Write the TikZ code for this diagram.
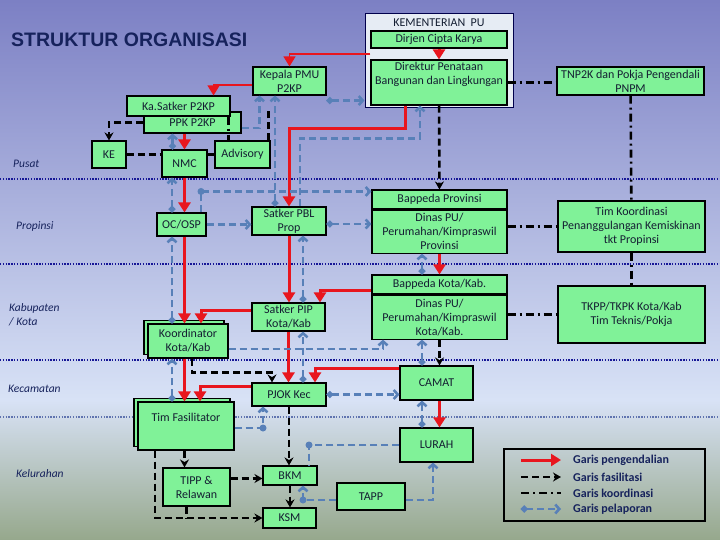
\documentclass[tikz,border=0pt]{standalone}
\usepackage{fontspec}
\setmainfont{Carlito}
\newfontfamily\titlefont{Liberation Sans}
\usetikzlibrary{arrows.meta,positioning,calc,shadows}

\definecolor{boxgreen}{RGB}{128,242,152}
\definecolor{inkc}{RGB}{20,30,50}
\definecolor{navyc}{RGB}{22,34,92}
\definecolor{redc}{RGB}{232,22,30}
\definecolor{repc}{RGB}{88,128,184}
\definecolor{sepc}{RGB}{22,22,150}
\definecolor{sepl}{RGB}{95,115,175}
\definecolor{kemfill}{RGB}{230,236,244}
\definecolor{bgtop}{RGB}{124,128,196}
\definecolor{bgmid}{RGB}{216,226,246}
\definecolor{bgbot}{RGB}{150,168,140}

\begin{document}
\begin{tikzpicture}[
    x=1pt, y=-1pt,
    unit/.style={rectangle, draw=black, line width=1.1pt, fill=boxgreen, text=inkc,
                 align=center, inner sep=1pt, font=\fontsize{12}{14}\selectfont},
    twin/.style={copy shadow={shadow xshift=-4pt, shadow yshift=3.5pt, fill=boxgreen,
                 draw=black, line width=1.1pt}},
    ctrl/.style={draw=redc, line width=3pt, -{Triangle[length=10pt,width=12pt]}},
    ctrlthin/.style={draw=redc, line width=1.2pt, -{Triangle[length=10pt,width=12pt]}},
    facil/.style={draw=black, line width=2.6pt, dash pattern=on 7pt off 4pt,
                  -{Stealth[length=8pt,width=9pt]}},
    coord/.style={draw=black, line width=2.6pt, dash pattern=on 8pt off 4pt on 2pt off 4pt},
    report/.style={draw=repc, line width=2.6pt, dash pattern=on 7pt off 4pt,
                   {Circle[length=6.5pt]}-{Straight Barb[length=4pt,width=9pt]}},
    lvl/.style={font=\fontsize{11.5}{14.5}\selectfont\itshape, text=navyc, anchor=west,
                inner sep=0pt, align=left},
    lgd/.style={font=\fontsize{12}{14}\selectfont\bfseries, text=navyc, anchor=west, inner sep=0pt}
]

%% -- background and levels ------------------------------------------
\useasboundingbox (0,0) rectangle (720,540);
\shade[top color=bgtop, bottom color=bgmid] (0,0) rectangle (720,400);
\shade[top color=bgmid, bottom color=bgbot] (0,400) rectangle (720,540);
\foreach \yy in {179,264,360}
  \draw[draw=sepc, line width=2.6pt, dash pattern=on 1.4pt off 1.4pt] (0,\yy) -- (720,\yy);
\draw[draw=sepl, line width=2.2pt, dash pattern=on 1.4pt off 1.4pt] (0,417) -- (720,417);

\node[font=\titlefont\bfseries\fontsize{19.5}{22}\selectfont, text=navyc, anchor=west, inner sep=0pt]
    (title) at (11,40) {STRUKTUR ORGANISASI};

\node[lvl] (lpusat) at (13,164) {Pusat};
\node[lvl] (lprop)  at (16,226) {Propinsi};
\node[lvl] (lkab)   at (9,315)  {Kabupaten\\/ Kota};
\node[lvl] (lkec)   at (8,389)  {Kecamatan};
\node[lvl] (lkel)   at (16,474) {Kelurahan};

%% -- pusat ----------------------------------------------------------
\node[draw=black!70!blue, line width=1pt, fill=kemfill, minimum width=148pt,
      minimum height=94pt] (kem) at (439,61) {};
\node[font=\fontsize{12}{14}\selectfont, text=inkc, inner sep=0pt] (kemlbl) at (439,23)
    {KEMENTERIAN\ \ PU};
\node[unit, minimum width=136pt, minimum height=17pt] (dirjen) at (439,39.5) {Dirjen Cipta Karya};
\node[unit, minimum width=136pt, minimum height=45pt] (direktur) at (439,82.5)
    {Direktur Penataan\\Bangunan dan Lingkungan\\\strut};
\node[unit, minimum width=147pt, minimum height=28pt] (tnp2k) at (630.5,81)
    {TNP2K dan Pokja Pengendali\\PNPM};
\node[unit, minimum width=73pt, minimum height=28pt] (kepala) at (289.5,81) {Kepala PMU\\P2KP};
\node[unit, minimum width=97pt, minimum height=21pt] (ppk) at (192.5,122.5) {PPK P2KP};
\node[unit, minimum width=103pt, minimum height=20pt] (kasatker) at (178.5,106) {Ka.Satker P2KP};
\node[unit, minimum width=34pt, minimum height=27pt] (ke) at (109,154.5) {KE};
\node[unit, minimum width=45pt, minimum height=27pt] (nmc) at (184.5,163.5) {NMC};
\node[unit, minimum width=55pt, minimum height=27pt] (advisory) at (242.5,154.5) {Advisory};

%% -- propinsi -------------------------------------------------------
\node[unit, minimum width=49pt, minimum height=23pt] (ocosp) at (181.5,224.5) {OC/OSP};
\node[unit, minimum width=74pt, minimum height=28pt] (pbl) at (289,221) {Satker PBL\\Prop};
\node[unit, minimum width=135pt, minimum height=19pt] (bprovt) at (439.5,199.5) {Bappeda Provinsi};
\node[unit, minimum width=135pt, minimum height=43pt, below=0pt of bprovt] (bprov)
    {Dinas PU/\\Perumahan/Kimpraswil\\Provinsi};
\node[unit, minimum width=147pt, minimum height=51pt] (timkoord) at (631.5,226.5)
    {Tim Koordinasi\\Penanggulangan Kemiskinan\\tkt Propinsi};

%% -- kabupaten / kota -----------------------------------------------
\node[unit, minimum width=135pt, minimum height=19pt] (bkotat) at (439.5,284.5) {Bappeda Kota/Kab.};
\node[unit, minimum width=135pt, minimum height=44pt, below=0pt of bkotat] (bkota)
    {Dinas PU/\\Perumahan/Kimpraswil\\Kota/Kab.};
\node[unit, minimum width=147pt, minimum height=57pt] (tkpp) at (631.5,314.5)
    {TKPP/TKPK Kota/Kab\\Tim Teknis/Pokja};
\node[unit, minimum width=73pt, minimum height=28pt] (pip) at (288.5,317) {Satker PIP\\Kota/Kab};
\node[unit, twin, minimum width=80pt, minimum height=34pt] (koord) at (188,341) {Koordinator\\Kota/Kab};

%% -- kecamatan / kelurahan ------------------------------------------
\node[unit, minimum width=73pt, minimum height=34pt] (camat) at (436.5,383) {CAMAT};
\node[unit, minimum width=74pt, minimum height=23pt] (pjok) at (289,394.5) {PJOK Kec};
\node[unit, twin, minimum width=96pt, minimum height=48pt] (timfas) at (186,426)
    {Tim Fasilitator\\\strut};
\node[unit, minimum width=73pt, minimum height=34pt] (lurah) at (436.5,445) {LURAH};
\node[unit, minimum width=67pt, minimum height=38pt] (tipp) at (196.5,487) {TIPP \&\\Relawan};
\node[unit, minimum width=54pt, minimum height=19pt] (bkm) at (290,475.5) {BKM};
\node[unit, minimum width=53pt, minimum height=20pt] (ksm) at (289.5,518) {KSM};
\node[unit, minimum width=68pt, minimum height=27pt] (tapp) at (371,496.5) {TAPP};

%% -- garis pengendalian ---------------------------------------------
\draw[ctrl] (dirjen) -- (direktur);
\draw[ctrlthin] ($(dirjen.south west)!.5!(direktur.north west)$) -| (kepala.north);
\draw[ctrlthin] ([yshift=-4pt]kepala.west) -| ([xshift=-17pt]kasatker.north east);
\draw[ctrl] (ppk.south -| nmc) -- (nmc.north);
\draw[ctrl] (nmc.south) -- (nmc.south |- ocosp.north);
\draw[ctrl] (ocosp.south -| nmc) -- (koord.north -| nmc);
\draw[ctrl] (koord.south -| nmc) -- (timfas.north -| nmc);
\draw[ctrl] ([xshift=-34pt]direktur.south) -- ++(0,23) -| (pbl.north);
\draw[ctrl] (pbl.south) -- (pbl.south |- pip.north);
\draw[ctrl] ([yshift=7pt]pip.west) -| ([xshift=13pt]koord.north);
\draw[ctrl] (bprov) -- (bkotat);
\draw[ctrl] ([yshift=-5.5pt]bkotat.west) -| ([xshift=31.5pt]pip.north);
\draw[ctrl] (pip.south) -- (pip.south |- pjok.north);
\draw[ctrl] ([yshift=8.5pt]pjok.west) -| ([xshift=14pt]timfas.north);
\draw[ctrl] ([yshift=15pt]camat.west) -| ([xshift=26pt]pjok.north);
\draw[ctrl] (camat.south -| bprov) -- (lurah.north -| bprov);

%% -- garis fasilitasi -----------------------------------------------
\draw[facil] (direktur) -- (bprovt);
\draw[facil] (bkota.south) -- (bkota.south |- camat.north);
\draw[facil] (ppk.west) -| (ke.north);
\draw[facil, -] (ke.east) -- (ke.east -| nmc.west);
\draw[facil, -] (advisory.west -| nmc.east) -- (advisory.west);
\draw[facil, -, shorten >=12pt] ([xshift=-2pt]advisory.north east) -- ([xshift=-2pt]advisory.north east |- kepala.south);
\draw[facil] ([xshift=4pt]koord.south) -- ++(0,14) -| ([xshift=-17pt]pjok.north);
\draw[facil] (pjok.south) -- (pjok.south |- bkm.north);
\draw[facil] (bkm.south) -- (bkm.south |- ksm.north);
\draw[facil] (timfas.south -| nmc) -- (tipp.north -| nmc);
\draw[facil] ([yshift=-3pt]bkm.west -| tipp.east) -- ([yshift=-3pt]bkm.west);
\draw[facil] ([xshift=-31pt]timfas.south) |- (ksm.west);
\draw[facil, -] ([xshift=-10pt]tipp.south) -- ([xshift=-10pt]tipp.south |- ksm.west);

%% -- garis koordinasi -----------------------------------------------
\draw[coord] ([xshift=-2pt]kasatker.south east) -- ([xshift=-2pt]kasatker.south east |- advisory.north);
\draw[coord] (direktur.east) -- (direktur.east -| tnp2k.west);
\draw[coord] (tnp2k) -- (timkoord);
\draw[coord] (timkoord) -- (tkpp);
\draw[coord] (timkoord.west -| bprov.east) -- (timkoord.west);
\draw[coord] (tkpp.west -| bkota.east) -- (tkpp.west);

%% -- garis pelaporan ------------------------------------------------
\draw[report] ([yshift=-5pt]kepala.south east) -- ([yshift=-5pt]kepala.south east -| kem.west);
\draw[report] ([xshift=-12pt]nmc.north) -- ([xshift=-12pt]nmc.north |- ppk.south);
\draw[report, -{Straight Barb[length=4pt,width=9pt]}] ([yshift=-5.5pt]ppk.east) -| ([xshift=-30pt]kepala.south);
\draw[report] ([xshift=-14pt]pbl.north) -- ([xshift=-14pt]pbl.north |- kepala.south);
\draw[report, -{Straight Barb[length=4pt,width=9pt]}] ([xshift=11pt]pbl.north) -- ++(0,-68) -| ([xshift=-19pt]direktur.south);
\draw[report, -{Straight Barb[length=4pt,width=9pt]}] ([xshift=19.5pt]ocosp.north) |- coordinate[pos=.5] (ocbend) ([yshift=-2pt]bprovt.north west);
\fill[repc] (ocbend) circle (3.5pt);
\draw[report, -{Straight Barb[length=4pt,width=9pt]}] (ocosp.east) -- (ocosp.east -| pbl.west);
\draw[report] ([yshift=-3pt]pbl.east) -- ([yshift=-3pt]pbl.east -| bprov.west);
\draw[report] ([xshift=-9.5pt]ocosp.north) -- ([xshift=-9.5pt]ocosp.north |- nmc.south);
\draw[report] ([xshift=-16pt]koord.north) -- ([xshift=-16pt]koord.north |- ocosp.south);
\draw[report] ([xshift=-14pt]timfas.north) -- ([xshift=-14pt]timfas.north |- koord.south);
\draw[report] ([xshift=14.5pt]pip.north) -- ([xshift=14.5pt]pip.north |- pbl.south);
\draw[report] ([xshift=14pt]pjok.north) -- ([xshift=14pt]pjok.north |- pip.south);
\draw[report, -{Straight Barb[length=4pt,width=9pt]}] ([yshift=-8pt]koord.east) -| ([xshift=-56.5pt]bkota.south);
\draw[report] ([xshift=-17.5pt]bkotat.north) -- ([xshift=-17.5pt]bkotat.north |- bprov.south);
\draw[report] ([xshift=-14.5pt]camat.north) -- ([xshift=-14.5pt]camat.north |- bkota.south);
\draw[report] ([xshift=-14.5pt]lurah.north) -- ([xshift=-14.5pt]lurah.north |- camat.south);
\draw[report] (pjok.east) -- (pjok.east -| camat.west);
\draw[report, -{Straight Barb[length=4pt,width=9pt]}] ([yshift=-2pt]timfas.east) -| coordinate[pos=.5] (tfbend) ([xshift=-26pt]pjok.south);
\fill[repc] (tfbend) circle (3.5pt);
\draw[report, -] (lurah.west) -| coordinate[pos=.5] (lubend) ([xshift=19pt]bkm.north);
\fill[repc] (lubend) circle (3.5pt);
\draw[report, -{Straight Barb[length=4pt,width=9pt]}] ([yshift=-3.5pt]tapp.west) -| coordinate[pos=.5] (tabend) ([xshift=13pt]bkm.south);
\fill[repc] (tabend) circle (3.5pt);
\draw[report, -{Straight Barb[length=4pt,width=9pt]}] ([yshift=-3.5pt]tapp.east) -| ([xshift=-3.5pt]lurah.south);

%% -- legenda --------------------------------------------------------
\node[draw=black, line width=1.2pt, minimum width=201pt, minimum height=72pt] (legend) at (604.5,485) {};
\node[lgd] (lgctrl) at (573,460) {Garis pengendalian};
\node[lgd] (lgfac)  at (573,477) {Garis fasilitasi};
\node[lgd] (lgcoo)  at (573,493) {Garis koordinasi};
\node[lgd] (lgrep)  at (573,509) {Garis pelaporan};
\draw[ctrl]   ([xshift=-52pt]lgctrl.west) -- ([xshift=-12pt]lgctrl.west);
\draw[facil]  ([xshift=-52pt]lgfac.west)  -- ([xshift=-12pt]lgfac.west);
\draw[coord]  ([xshift=-52pt]lgcoo.west)  -- ([xshift=-12pt]lgcoo.west);
\draw[report] ([xshift=-52pt]lgrep.west)  -- ([xshift=-12pt]lgrep.west);

\end{tikzpicture}
\end{document}
